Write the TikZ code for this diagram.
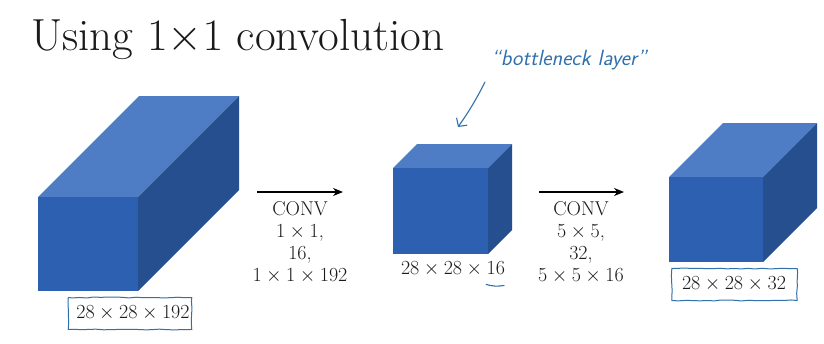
\RequirePackage{fix-cm}
\documentclass[tikz,border=0pt]{standalone}
\usepackage{amsmath}
\usepackage{xcolor}
\usetikzlibrary{arrows.meta,decorations.pathmorphing}
\definecolor{slideink}{HTML}{1A1A1A}
\definecolor{cubefront}{HTML}{2E60B2}
\definecolor{cubetop}{HTML}{4F7DC5}
\definecolor{cubeside}{HTML}{254F8F}
\definecolor{handblue}{HTML}{3070AC}

\begin{document}
\begin{tikzpicture}[x=1pt, y=-1pt, >={Stealth[length=10pt,width=8pt]},
                    every node/.style={slideink},
                    dims/.style={font=\fontsize{20}{22}\selectfont, align=center, inner sep=0pt},
                    handbox/.style={handblue, line width=1pt, decorate,
                      decoration={random steps, segment length=7pt, amplitude=0.5pt}}]

  \useasboundingbox (0,0) rectangle (824,343);
  \fill[white] (0,0) rectangle (824,343);

  %% title
  \node[anchor=base west, inner sep=0pt, font=\fontsize{45}{50}\selectfont] (title)
    at (31,50) {Using $1{\times}1$ convolution};

  %% the three volumes: front, top and side face
  \foreach \xa/\ya/\xb/\yb/\d in {38/197/138/291/101, 393/168/488/254/24, 669/177/763/262/54} {
    \fill[cubetop]   (\xa,\ya) -- (\xa+\d,\ya-\d) -- (\xb+\d,\ya-\d) -- (\xb,\ya) -- cycle;
    \fill[cubeside]  (\xb,\ya) -- (\xb+\d,\ya-\d) -- (\xb+\d,\yb-\d) -- (\xb,\yb) -- cycle;
    \fill[cubefront] (\xa,\ya) rectangle (\xb,\yb);
  }

  %% sizes of the volumes
  \node[dims] (inLabel)  at (133,313) {$28\times28\times192$};
  \node[dims] (midLabel) at (453,269) {$28\times28\times16$};
  \node[dims] (outLabel) at (734,284) {$28\times28\times32$};

  %% the two convolutions
  \coordinate (convA-from) at (257,192);
  \coordinate (convA-to)   at (343,192);
  \draw[->, line width=1.1pt] (convA-from) -- (convA-to);
  \node[dims, anchor=north] (convA) at (300,201)
    {CONV\\ $1\times1$,\\ $16$,\\ $1\times1\times192$};

  \coordinate (convB-from) at (539,192);
  \coordinate (convB-to)   at (624,192);
  \draw[->, line width=1.1pt] (convB-from) -- (convB-to);
  \node[dims, anchor=north] (convB) at (581,201)
    {CONV\\ $5\times5$,\\ $32$,\\ $5\times5\times16$};

  %% hand written notes
  \draw[handbox] ([xshift=-8pt,yshift=8pt]inLabel.north west)
    rectangle ([xshift=2pt,yshift=-9pt]inLabel.south east);
  \draw[handbox] ([xshift=-10pt,yshift=8pt]outLabel.north west)
    rectangle ([xshift=11pt,yshift=-9pt]outLabel.south east);
  \draw[handblue, line width=1.1pt, line cap=round]
    ([xshift=-19pt,yshift=-8pt]midLabel.south east)
    to[bend right=12] ([xshift=-1pt,yshift=-9pt]midLabel.south east);

  \node[handblue, inner sep=0pt, anchor=base,
        font=\sffamily\itshape\fontsize{22}{24}\selectfont] (bneck)
    at (569,65) {``bottleneck layer''};
  \coordinate (bneck-from) at (485,82);
  \coordinate (bneck-tip)  at (458,127);
  \draw[handblue, line width=1.1pt, line cap=round,
        -{Straight Barb[length=6pt,width=13pt]}] (bneck-from) to[bend left=4] (bneck-tip);

\end{tikzpicture}
\end{document}
